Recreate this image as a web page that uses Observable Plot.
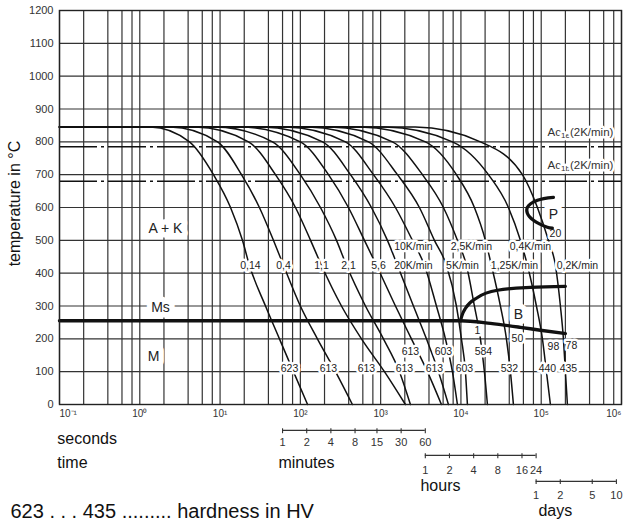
<!DOCTYPE html>
<html><head><meta charset="utf-8">
<script src="https://cdn.jsdelivr.net/npm/d3@7"></script>
<script src="https://cdn.jsdelivr.net/npm/@observablehq/plot@0.6"></script>
<style>body{margin:0;background:#fff}</style>
</head><body><div id="chart"></div>
<script>
// ---- data ----
const curveNames = ["0,14","0,4","1,1","2,1","5,6","20K/min","10K/min","5K/min","2,5K/min","1,25K/min","0,4K/min","0,2K/min"];
const curveTemps = [845, 845, 800, 700, 600, 500, 424, 300, 200, 100, 0];
const curveTimes = [
  [0.1, 1.36, 4.16, 8.28, 13.5, 19.0, 23.2, 36.8, 54.9, 82.0, 123],
  [0.1, 2.41, 9.28, 18.5, 30.9, 46.2, 61.6, 100, 163, 274, 445],
  [0.1, 4.94, 22.6, 49.0, 86.9, 134, 183, 325, 577, 1115, 2035],
  [0.1, 8.76, 44.9, 100, 178, 282, 375, 647, 1083, 1714, 2350],
  [0.1, 17.9, 100, 224, 397, 628, 887, 1529, 2418, 3824, 5715],
  [0.1, 33.7, 189, 421, 768, 1215, 1619, 2561, 3718, 5245, 6988],
  [0.1, 65.2, 364, 814, 1529, 2488, 3510, 4953, 6411, 7834, 9043],
  [0.1, 126, 705, 1619, 3041, 4677, 6596, 8787, 10141, 11374, 12046],
  [0.1, 237, 1403, 3314, 6053, 9043, 11706, 14723, 17482, 19613, 21380],
  [0.1, 560, 3612, 8787, 14723, 20180, 23980, 31030, 36860, 41350, 45060],
  [0.1, 1147, 7834, 22000, 39040, 55070, 67330, 87130, 103500, 116100, 130200],
  [0.1, 2713, 17482, 58320, 89660, 122900, 150300, 173400, 189000, 200100, 211900]
];
// martensite start line and its continuation (bainite finish)
const msTimes = [0.1, 9860, 23300, 55000, 97700, 200000];
const msTemps = [255, 255, 247, 235, 226, 216];
// bainite start
const bsTimes = [9860, 10440, 11400, 16100, 28500, 73400, 200000];
const bsTemps = [255, 275, 293, 326, 348, 357, 360];
// pearlite nose
const pTimes = [142000, 89700, 67300, 67300, 80000, 119400, 137700];
const pTemps = [631, 622, 601, 582, 561, 540, 537];
// Ac lines
const acTemps = [785, 680];
const acLabels = ["Ac1e(2K/min)", "Ac1b(2K/min)"];
const acLabelTemps = [828, 728];
const acLabelTime = 792600;
// cooling-rate labels
const rateLabels = ["0,14","0,4","1,1","2,1","5,6","20K/min","5K/min","1,25K/min","0,2K/min","10K/min","2,5K/min","0,4K/min"];
const rateTimes  = [23.9, 61.6, 183, 397, 939, 2561, 10440, 46390, 282400, 2561, 13510, 73390];
const rateTemps  = [423, 423, 423, 423, 423, 423, 423, 423, 423, 481, 481, 481];
// hardness labels (HV)
const hvLabels = ["623","613","613","613","613","603","532","440","435","613","603","584"];
const hvTimes  = [73.2, 223.8, 665.6, 1979, 4677, 11060, 40180, 119500, 218200, 2350, 6053, 19060];
const hvTemps  = [110, 110, 110, 110, 110, 110, 110, 110, 110, 161, 161, 161];
// percentage / phase labels
const pctLabels = ["98","78","1","50","20"];
const pctTimes  = [142000, 237700, 16050, 50530, 150300];
const pctTemps  = [177, 180, 225, 201, 521];
const phaseLabels = ["A + K","Ms","M","B","P"];
const phaseTimes  = [2.09, 1.81, 1.48, 52000, 142000];
const phaseTemps  = [536, 295, 146, 274, 579];
// axes
const gridMult = [1, 2, 4, 6, 8];
const gridDecades = [0.1, 1, 10, 100, 1e3, 1e4, 1e5];
const gridTimes = gridDecades.flatMap(d => gridMult.map(m => m * d)).concat([1e6]);
const gridTemps = [0,100,200,300,400,500,600,700,800,900,1000,1100,1200];
const decadeTimes = [0.1, 1, 10, 100, 1e3, 1e4, 1e5, 1e6];
const decadeLabels = ["10⁻¹","10⁰","10¹","10²","10³","10⁴","10⁵","10⁶"];
const minuteTicks = [1, 2, 4, 8, 15, 30, 60];
const hourTicks = [1, 2, 4, 8, 16, 24];
const dayTicks = [1, 2, 5, 10];

// ---- build ----
const curveRows = curveNames.flatMap((name, i) => curveTimes[i].map((t, j) => ({name, t, T: curveTemps[j]})));
const zip = (ts, Ts, labels) => ts.map((t, i) => ({t, T: Ts[i], label: labels ? labels[i] : null}));

const FONT = "Liberation Sans, Arial, Helvetica, sans-serif";
const halo = {stroke: "white", strokeWidth: 5, paintOrder: "stroke"};

function scaleBar(ticks, unit, lineT, labelT) {
  return [
    Plot.ruleY([lineT], {x1: ticks[0] * unit, x2: ticks[ticks.length - 1] * unit, stroke: "#333", strokeWidth: 1.2}),
    Plot.ruleX(ticks, {x: d => d * unit, y1: lineT + 5, y2: lineT - 10, stroke: "#333", strokeWidth: 1.1}),
    Plot.text(ticks, {x: d => d * unit, y: labelT, text: d => String(d), fontSize: 11, fill: "#333"})
  ];
}

const chart = Plot.plot({
  width: 630, height: 523,
  marginLeft: 59, marginRight: 9, marginTop: 10, marginBottom: 119,
  x: {type: "log", domain: [0.1, 1e6], axis: null},
  y: {domain: [0, 1200], axis: null},
  style: {fontFamily: FONT, background: "white", color: "#111"},
  marks: [
    Plot.ruleX(gridTimes, {stroke: "#333", strokeWidth: 1.2}),
    Plot.ruleY(gridTemps, {stroke: "#333", strokeWidth: 1.2}),
    Plot.ruleY(acTemps, {stroke: "#111", strokeWidth: 1.6, strokeDasharray: "38,4,3,4"}),
    Plot.line(curveRows, {x: "t", y: "T", z: "name", curve: "monotone-x", stroke: "#111", strokeWidth: 1.5}),
    // labels with white knock-out
    Plot.text(zip(rateTimes, rateTemps, rateLabels), {x: "t", y: "T", text: "label", fontSize: 10.5, fill: "#222", ...halo}),
    Plot.text(zip(hvTimes, hvTemps, hvLabels), {x: "t", y: "T", text: "label", fontSize: 10.5, fill: "#222", ...halo}),
    Plot.text(zip(pctTimes, pctTemps, pctLabels), {x: "t", y: "T", text: "label", fontSize: 10.5, fill: "#222", ...halo}),
    Plot.text(zip(phaseTimes, phaseTemps, phaseLabels), {x: "t", y: "T", text: "label", fontSize: 14, fill: "#222", stroke: "white", strokeWidth: 11, paintOrder: "stroke"}),
    Plot.text(acLabels, {x: acLabelTime, y: (d, i) => acLabelTemps[i], text: d => d, textAnchor: "end", fontSize: 11.5, fill: "#333", ...halo}),
    // thick transformation lines
    Plot.line(zip(msTimes, msTemps), {x: "t", y: "T", curve: "monotone-x", stroke: "#111", strokeWidth: 3.4}),
    Plot.line(zip(bsTimes, bsTemps), {x: "t", y: "T", curve: "monotone-x", stroke: "#111", strokeWidth: 3.2}),
    Plot.line(zip(pTimes, pTemps), {x: "t", y: "T", curve: "catmull-rom", stroke: "#111", strokeWidth: 3.2}),
    Plot.frame({stroke: "#222", strokeWidth: 1.4}),
    // axes
    Plot.text(gridTemps, {frameAnchor: "left", y: d => d, text: d => String(d), textAnchor: "end", dx: -6, fontSize: 11, fill: "#333"}),
    Plot.text(decadeLabels.slice(0, 1), {x: decadeTimes[0], y: -28, text: d => d, textAnchor: "start", fontSize: 10, fill: "#333"}),
    Plot.text(decadeLabels.slice(1, 7), {x: (d, i) => decadeTimes[i + 1], y: -28, text: d => d, fontSize: 10, fill: "#333"}),
    Plot.text(decadeLabels.slice(7), {x: decadeTimes[7], y: -28, text: d => d, textAnchor: "end", fontSize: 10, fill: "#333"}),
    Plot.text(["temperature in °C"], {x: 0.0275, y: 612, rotate: -90, textAnchor: "middle", text: d => d, fontSize: 16, fill: "#111"}),
    ...scaleBar(minuteTicks, 60, -79, -117),
    ...scaleBar(hourTicks, 3600, -155, -202),
    ...scaleBar(dayTicks, 86400, -234, -277),
    Plot.text([
      {text: "seconds", t: 0.094, T: -104},
      {text: "time", t: 0.094, T: -177},
      {text: "minutes", t: 53.3, T: -177},
      {text: "hours", t: 3134, T: -247},
      {text: "days", t: 92250, T: -324}
    ], {x: "t", y: "T", text: "text", textAnchor: "start", fontSize: 16, fill: "#111"}),
    Plot.text(["623 . . . 435 ......... hardness in HV"], {x: 0.0245, y: -327, text: d => d, textAnchor: "start", fontSize: 20, fill: "#111"})
  ]
});

// subscripts for Ac labels
d3.select(chart).selectAll("text").filter(function () { return /^Ac1[eb]/.test(this.textContent); })
  .each(function () {
    const s = this.textContent;
    const el = d3.select(this);
    el.text(null);
    el.append("tspan").text("Ac");
    el.append("tspan").attr("font-size", "8").attr("dy", "2").text(s.slice(2, 4));
    el.append("tspan").attr("dy", "-2").text(s.slice(4));
  });

document.getElementById("chart").appendChild(chart);
</script>
</body></html>
